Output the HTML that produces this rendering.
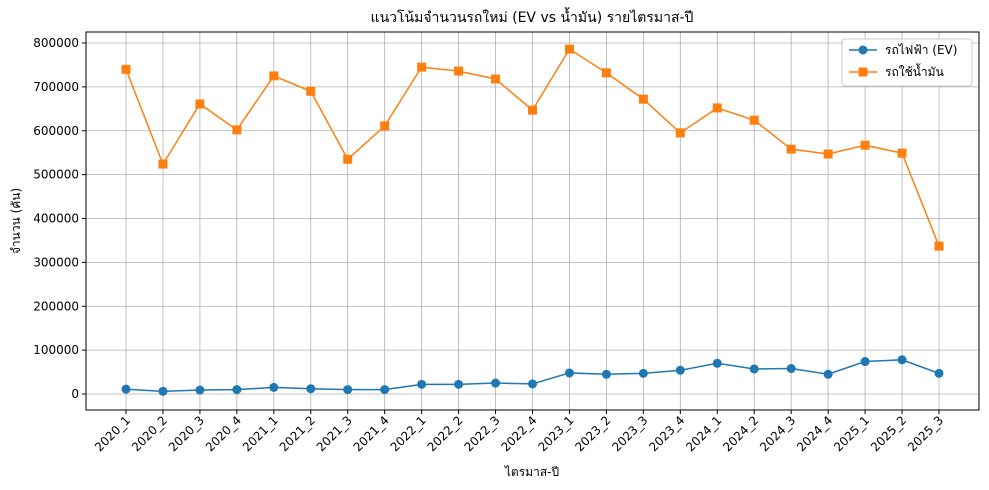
<!DOCTYPE html>
<html><head><meta charset="utf-8">
<style>
body{margin:0;background:#fff;}
svg{display:block;font-family:"DejaVu Sans","Liberation Sans","Noto Sans CJK SC",sans-serif;}
</style></head>
<body>
<svg id="chart" width="989" height="490" viewBox="0 0 989 490"></svg>
<script>
const categories=["2020_1","2020_2","2020_3","2020_4","2021_1","2021_2","2021_3","2021_4","2022_1","2022_2","2022_3","2022_4","2023_1","2023_2","2023_3","2023_4","2024_1","2024_2","2024_3","2024_4","2025_1","2025_2","2025_3"];
const evValues=[11000,6000,9000,10000,15000,12000,10000,10000,22000,22000,25000,23000,48000,45000,47000,54000,70000,57000,58000,45000,74000,78000,47000];
const iceValues=[740000,524000,661000,602000,725000,690000,535000,611000,745000,736000,718000,647000,786000,732000,672000,595000,652000,624000,558000,547000,567000,549000,337000];
const yTicks=[0,100000,200000,300000,400000,500000,600000,700000,800000];

const svg=document.getElementById('chart');
const NS='http://www.w3.org/2000/svg';
const L=86,R=979,T=32,B=410;
const x0=126,x1=939;
function xs(i){return x0+(x1-x0)*i/(categories.length-1);}
function ys(v){return 394-v*(394-43)/800000;}
function mk(tag,attrs,parent){const e=document.createElementNS(NS,tag);for(const k in attrs)e.setAttribute(k,attrs[k]);(parent||svg).appendChild(e);return e;}

const grid=mk('g',{});


categories.forEach((c,i)=>{mk('line',{x1:xs(i),x2:xs(i),y1:T,y2:B,stroke:'#b0b0b0','stroke-width':0.8},grid);});
yTicks.forEach(v=>{mk('line',{x1:L,x2:R,y1:ys(v),y2:ys(v),stroke:'#b0b0b0','stroke-width':0.8},grid);});

const frame=mk('rect',{x:L,y:T,width:R-L,height:B-T,fill:'none',stroke:'#000','stroke-width':1});



const yax=mk('g',{});


yTicks.forEach(v=>{
  mk('line',{x1:L-4,x2:L,y1:ys(v),y2:ys(v),stroke:'#000'},yax);
  const t=mk('text',{x:L-7,y:ys(v)+4,'text-anchor':'end','font-size':12},yax);t.textContent=v;
});
const xax=mk('g',{});


categories.forEach((c,i)=>{
  mk('line',{x1:xs(i),x2:xs(i),y1:B,y2:B+4,stroke:'#000'},xax);
  const t=mk('text',{x:xs(i)+5,y:B+11,'text-anchor':'end','font-size':12,transform:`rotate(-45 ${xs(i)+5} ${B+11})`},xax);t.textContent=c;
});

function series(vals,color,marker,name){
  const g=mk('g',{});
  
  
  mk('polyline',{points:vals.map((v,i)=>xs(i)+','+ys(v)).join(' '),fill:'none',stroke:color,'stroke-width':1.5},g);
  vals.forEach((v,i)=>{
    let m;
    if(marker==='o')m=mk('circle',{cx:xs(i),cy:ys(v),r:4.5,fill:color},g);
    else m=mk('rect',{x:xs(i)-4.5,y:ys(v)-4.5,width:9,height:9,fill:color},g);
    
    
  });
}
series(evValues,'#1f77b4','o','ev-series');
series(iceValues,'#ff7f0e','s','ice-series');

const title=mk('text',{x:532,y:22,'text-anchor':'middle','font-size':14});
title.textContent='แนวโน้มจำนวนรถใหม่ (EV vs น้ำมัน) รายไตรมาส-ปี';


const xt=mk('text',{x:532,y:476,'text-anchor':'middle','font-size':12});
xt.textContent='ไตรมาส-ปี';


const yt=mk('text',{x:20,y:221,'text-anchor':'middle','font-size':12,transform:'rotate(-90 20 221)'});
yt.textContent='จำนวน (คัน)';



const lg=mk('g',{});


mk('rect',{x:842,y:39,width:130,height:47,fill:'#fff',stroke:'#ccc',rx:3},lg);
mk('line',{x1:849,x2:877,y1:50,y2:50,stroke:'#1f77b4','stroke-width':1.5},lg);
mk('circle',{cx:863,cy:50,r:4.5,fill:'#1f77b4'},lg);
const l1=mk('text',{x:885,y:54,'font-size':12},lg);l1.textContent='รถไฟฟ้า (EV)';


mk('line',{x1:849,x2:877,y1:72,y2:72,stroke:'#ff7f0e','stroke-width':1.5},lg);
mk('rect',{x:858.5,y:67.5,width:9,height:9,fill:'#ff7f0e'},lg);
const l2=mk('text',{x:885,y:76,'font-size':12},lg);l2.textContent='รถใช้น้ำมัน';


</script>
</body></html>
